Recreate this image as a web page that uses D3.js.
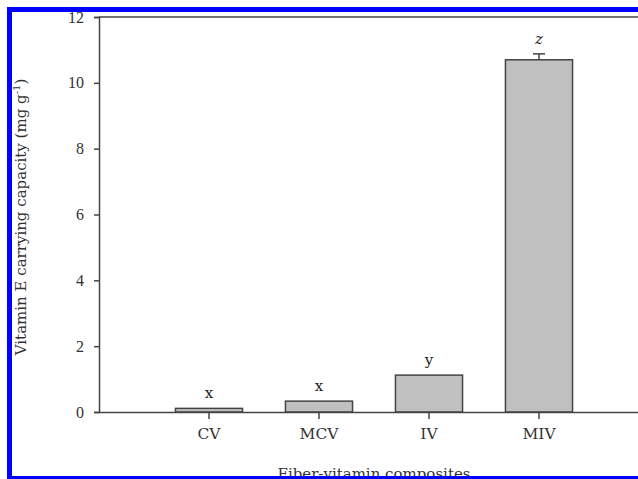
<!DOCTYPE html>
<html><head><meta charset="utf-8">
<script src="https://cdn.jsdelivr.net/npm/d3@7"></script>
<style>html,body{margin:0;padding:0;background:#fff;overflow:hidden}</style>
</head><body>
<svg id="c" width="638" height="479"></svg>
<script>
const categories = ["CV", "MCV", "IV", "MIV"];
const values = [0.11, 0.33, 1.12, 10.7];
const errors = [0, 0, 0, 0.18];
const letters = ["x", "x", "y", "z"];
const yTicks = [0, 2, 4, 6, 8, 10, 12];

const svg = d3.select("#c");
const font = "'DejaVu Serif', 'Liberation Serif', serif";
const numFont = "'Liberation Serif', serif";
const axisCol = "#444";
const plotLeft = 99, plotTop = 17, plotBottom = 412, plotRight = 649;

const x = d3.scaleBand().domain(categories).range([plotLeft, plotRight]).paddingInner(0.39).paddingOuter(0.695);
const y = d3.scaleLinear().domain([0, 12]).range([plotBottom, plotTop]);

// bars
svg.selectAll("rect.bar").data(categories).enter().append("rect")
  .attr("class", "bar")
  .attr("x", d => x(d))
  .attr("y", (d, i) => y(values[i]))
  .attr("width", x.bandwidth())
  .attr("height", (d, i) => y(0) - y(values[i]))
  .attr("fill", "#c0c0c0").attr("stroke", axisCol).attr("stroke-width", 1.5);

// error bars
categories.forEach((c, i) => {
  if (errors[i] > 0) {
    const cx = x(c) + x.bandwidth() / 2;
    svg.append("line").attr("x1", cx).attr("x2", cx)
      .attr("y1", y(values[i])).attr("y2", y(values[i] + errors[i]))
      .attr("stroke", axisCol).attr("stroke-width", 1.5);
    svg.append("line").attr("x1", cx - 6).attr("x2", cx + 6)
      .attr("y1", y(values[i] + errors[i])).attr("y2", y(values[i] + errors[i]))
      .attr("stroke", axisCol).attr("stroke-width", 1.5);
  }
});

// letters
svg.selectAll("text.let").data(categories).enter().append("text")
  .attr("class", "let")
  .attr("x", d => x(d) + x.bandwidth() / 2)
  .attr("y", (d, i) => y(values[i] + errors[i]) - 10)
  .attr("text-anchor", "middle")
  .attr("font-family", font).attr("font-size", 15)
  .attr("font-style", (d, i) => letters[i] === "z" ? "italic" : "normal")
  .attr("fill", "#222")
  .text((d, i) => letters[i]);

// axes
const yAxis = d3.axisLeft(y).tickValues(yTicks).tickSize(5).tickPadding(10).tickFormat(d3.format("d"));
const gy = svg.append("g").attr("transform", `translate(${plotLeft},0)`).call(yAxis);
gy.select(".domain").attr("stroke", axisCol).attr("stroke-width", 1.5);
gy.selectAll(".tick line").attr("stroke", axisCol).attr("stroke-width", 1.5);
gy.selectAll(".tick text").attr("font-family", numFont).attr("font-size", 16).attr("fill", "#333");

const xAxis = d3.axisBottom(x).tickSize(7).tickPadding(9).tickSizeOuter(0);
const gx = svg.append("g").attr("transform", `translate(0,${plotBottom})`).call(xAxis);
gx.select(".domain").attr("stroke", axisCol).attr("stroke-width", 1.5);
gx.selectAll(".tick line").attr("stroke", axisCol).attr("stroke-width", 1.5);
gx.selectAll(".tick text").attr("font-family", font).attr("font-size", 15.5).attr("fill", "#333");

// top frame line
svg.append("line").attr("x1", plotLeft).attr("x2", 638).attr("y1", y(12)).attr("y2", y(12))
  .attr("stroke", axisCol).attr("stroke-width", 1.5);

// axis titles
svg.append("text").attr("x", 374).attr("y", 479).attr("text-anchor", "middle")
  .attr("font-family", font).attr("font-size", 15).attr("fill", "#333")
  .text("Fiber-vitamin composites");

const yt = svg.append("text").attr("transform", "translate(26,217) rotate(-90)")
  .attr("text-anchor", "middle").attr("font-family", font).attr("font-size", 15).attr("fill", "#333");
yt.append("tspan").text("Vitamin E carrying capacity (mg g");
yt.append("tspan").attr("dy", -6).attr("font-size", 10).text("-1");
yt.append("tspan").attr("dy", 6).text(")");

// blue border
svg.append("rect").attr("x", 7).attr("y", 7).attr("width", 631).attr("height", 5).attr("fill", "#0000ff");
svg.append("rect").attr("x", 7).attr("y", 7).attr("width", 5).attr("height", 472).attr("fill", "#0000ff");
svg.append("rect").attr("x", 7).attr("y", 476).attr("width", 631).attr("height", 3).attr("fill", "#0000ff");
</script>
</body></html>
